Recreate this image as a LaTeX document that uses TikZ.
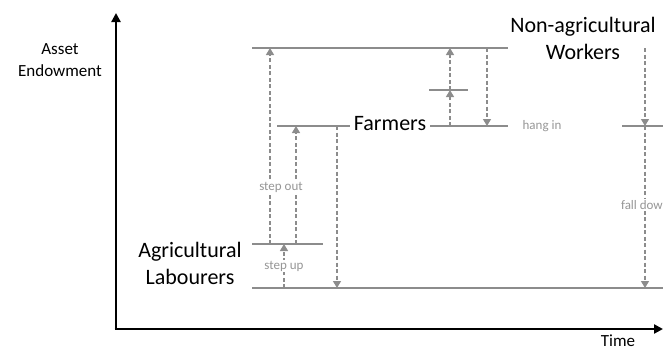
\documentclass[tikz,border=0pt]{standalone}
\usepackage{fontspec}
\setmainfont{Carlito}
\usetikzlibrary{arrows.meta}
\definecolor{lvl}{RGB}{140,140,140}
\definecolor{lbl}{RGB}{150,150,150}
\begin{document}
\begin{tikzpicture}[x=1pt,y=-1pt,
  level/.style={draw=lvl, line width=1.5pt},
  move/.style={draw=lvl, line width=1.2pt, dash pattern=on 4pt off 2.5pt, -{Triangle[width=8pt,length=7pt]}},
  tag/.style={text=lbl, font=\fontsize{13}{15}\selectfont, fill=white, inner sep=1pt},
  big/.style={font=\fontsize{22}{27}\selectfont, align=center, inner sep=0pt},
  axislbl/.style={font=\fontsize{17}{22}\selectfont, align=center, inner sep=0pt},
  axis/.style={line width=2.8pt, -{Triangle[width=9pt,length=9pt]}}]
\useasboundingbox (0,0) rectangle (663,349);
% axes
\coordinate (O) at (116,329);
\coordinate (Ytop) at (116,13);
\coordinate (Xend) at (663,329);
\draw[axis] ([yshift=1.4pt]O) -- (Ytop);
\draw[axis] ([xshift=-1.4pt]O) -- (Xend);
\node[axislbl] (ylab) at (60,60) {Asset\\Endowment};
\node[axislbl] (xlab) at (618,340.5) {Time};
% levels
\coordinate (T1) at (252,48);  \coordinate (T2) at (508,48);
\coordinate (F1) at (277,126); \coordinate (F4) at (508,126);
\coordinate (M1) at (429,90);  \coordinate (M2) at (468,90);
\coordinate (R1) at (622,126); \coordinate (R2) at (663,126);
\coordinate (A1) at (252,244); \coordinate (A2) at (323,244);
\coordinate (B1) at (252,288); \coordinate (B2) at (663,288);
\node[big, inner xsep=4pt] (farmers) at (390,124) {Farmers};
\node[big] (agri) at (190,263.5) {Agricultural\\Labourers};
\node[big] (nonagri) at (583,38.5) {Non-agricultural\\Workers};
\draw[level] (T1) -- (T2);
\draw[level] (F1) -- (farmers.west |- F1);
\draw[level] (farmers.east |- F4) -- (F4);
\draw[level] (M1) -- (M2);
\draw[level] (R1) -- (R2);
\draw[level] (A1) -- (A2);
\draw[level] (B1) -- (B2);
% moves
\coordinate (so0) at (270,244); \coordinate (so1) at (270,48);
\coordinate (sf0) at (296,244); \coordinate (sf1) at (296,126);
\coordinate (su0) at (284,288); \coordinate (su1) at (284,244);
\coordinate (fd0) at (337,126); \coordinate (fd1) at (337,288);
\coordinate (h0) at (450,126);  \coordinate (h1) at (450,90); \coordinate (h2) at (450,48);
\coordinate (hd0) at (487,48);  \coordinate (hd1) at (487,126);
\coordinate (n0) at (645,48);   \coordinate (n1) at (645,126); \coordinate (n2) at (645,288);
\draw[move] (so0) -- (so1);
\draw[move] (sf0) -- (sf1);
\draw[move] (su0) -- (su1);
\draw[move] (fd0) -- (fd1);
\draw[move] (h0) -- (h1);
\draw[move] (h1) -- (h2);
\draw[move] (hd0) -- (hd1);
\draw[move] (n0) -- (n1);
\draw[move] (n1) -- (n2);
% labels
\node[tag] (stepout) at (281,187) {step out};
\node[tag] (stepup) at (284,266) {step up};
\node[tag, fill=none] (hangin) at (542,126) {hang in};
\node[tag, anchor=east, inner xsep=0pt] (falldown) at (663,205) {fall dow};
\end{tikzpicture}
\end{document}
